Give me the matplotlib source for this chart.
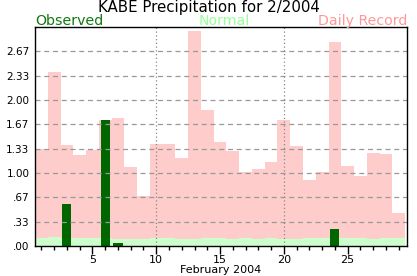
import matplotlib
matplotlib.use("Agg")
import matplotlib.pyplot as plt
from matplotlib.ticker import FixedLocator, MultipleLocator

days = list(range(1, 30))
record = [1.33, 2.38, 1.38, 1.24, 1.31, 1.72, 1.76, 1.08, 0.68, 1.40,
          1.40, 1.21, 2.95, 1.86, 1.42, 1.30, 1.01, 1.05, 1.15, 1.72,
          1.37, 0.90, 1.01, 2.79, 1.09, 0.96, 1.28, 1.26, 0.45]
normal = [0.11, 0.12, 0.11, 0.11, 0.11, 0.11, 0.10, 0.10, 0.10, 0.11,
          0.11, 0.10, 0.10, 0.11, 0.11, 0.10, 0.11, 0.10, 0.11, 0.10,
          0.10, 0.11, 0.11, 0.11, 0.11, 0.11, 0.10, 0.11, 0.11]
observed = [0, 0, 0.58, 0, 0, 1.72, 0.04, 0, 0, 0,
            0, 0, 0, 0, 0, 0, 0, 0, 0, 0,
            0, 0, 0, 0.23, 0, 0, 0, 0, 0]
yticks = [0, 0.33, 0.67, 1.00, 1.33, 1.67, 2.00, 2.33, 2.67]
ytick_labels = [".00", ".33", ".67", "1.00", "1.33", "1.67", "2.00", "2.33", "2.67"]
xmajor = [5, 10, 15, 20, 25]

plt.rcParams['font.family'] = ['DejaVu Sans']
fig = plt.figure(figsize=(4.17, 2.76), dpi=100)
ax = fig.add_axes([35/417, 1-246/276, (407-35)/417, (246-27)/276])

ax.bar(days, record, width=1.0, color="#ffcccc", zorder=1)
ax.bar(days, normal, width=1.0, color="#ccffcc", zorder=2)
ax.bar(days, observed, width=0.72, color="#006600", zorder=3)

ax.set_xlim(0.5, 29.65)
ax.set_ylim(0, 3.0)

ax.set_yticks(yticks)
ax.set_yticklabels(ytick_labels, fontsize=7.5)
ax.tick_params(axis='y', length=0, pad=4)
for y in yticks[1:]:
    ax.axhline(y, color="#999999", linestyle=(0, (4, 3)), linewidth=0.9, zorder=4)
for x in [10, 20]:
    ax.axvline(x, color="#888888", linestyle=(0, (1, 2)), linewidth=0.9, zorder=4)

ax.xaxis.set_major_locator(FixedLocator(xmajor))
ax.xaxis.set_minor_locator(MultipleLocator(1))
ax.set_xticklabels([str(v) for v in xmajor], fontsize=8)
ax.tick_params(axis='x', which='major', length=6, width=1, pad=0.5)
ax.tick_params(axis='x', which='minor', length=3, width=1)
ax.set_xlabel("February 2004", fontsize=8, labelpad=0)

for s in ax.spines.values():
    s.set_linewidth(1)
    s.set_color("black")
    s.set_zorder(5)

fig.text(0.5, 1-12/276, "KABE Precipitation for 2/2004", ha="center", va="baseline", fontsize=10.8)
fig.text(35/417, 1-25/276, "Observed", ha="left", va="baseline", fontsize=10.2, color="#117711")
fig.text(224/417, 1-25/276, "Normal", ha="center", va="baseline", fontsize=10.2, color="#99ff99")
fig.text(407/417, 1-25/276, "Daily Record", ha="right", va="baseline", fontsize=10.2, color="#ff9999")

fig.savefig("out.png", dpi=100)
